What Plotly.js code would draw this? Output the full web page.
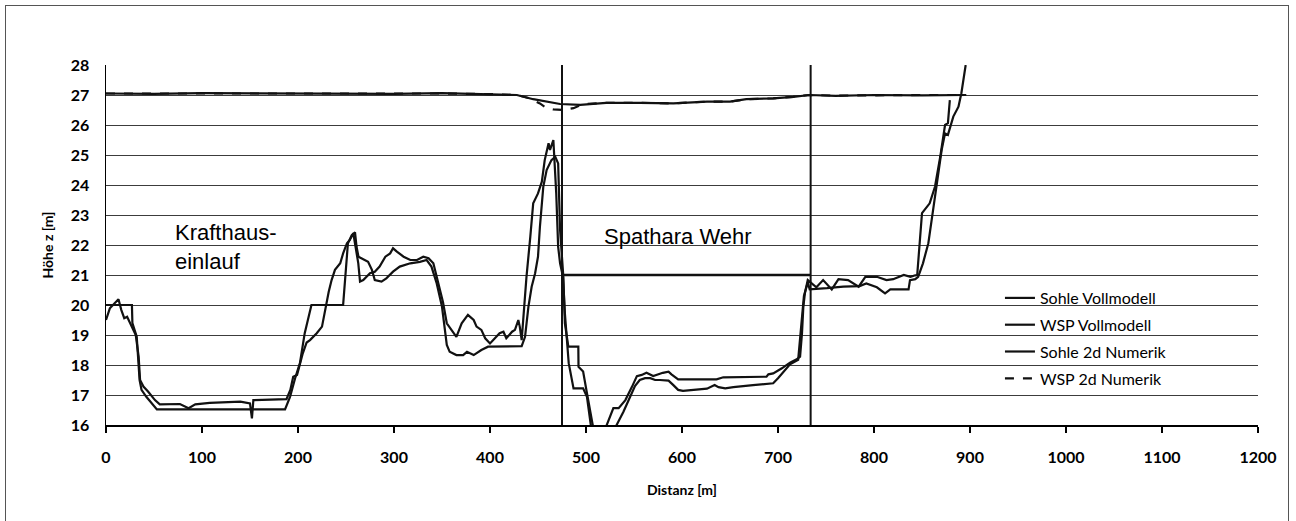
<!DOCTYPE html>
<html>
<head>
<meta charset="utf-8">
<script src="https://cdn.plot.ly/plotly-3.0.1.min.js"></script>
<style>
  html, body { margin: 0; padding: 0; background: #ffffff; }
  #wrap { position: relative; width: 1296px; height: 521px; overflow: hidden; }
  #chart { width: 1296px; height: 521px; }
  #frame { position: absolute; left: 5px; top: 5px; width: 1284px; height: 540px;
           border: 1.5px solid #555; pointer-events: none; box-sizing: border-box; }
</style>
</head>
<body>
<div id="wrap"><div id="chart"></div><div id="frame"></div></div>
<script>
// ---- Data ----
const sohleVollX = [0,4,9,13,16,19,22,25,28.5,31,34,35.5,39,44,51,56,77,86,93,108,140,150,152,153.5,188,192,195,199,205,209,212.5,219.5,225,228,232,235,238.5,244,247,251,254,257.6,262.8,264.6,268,275,280,285,291,296,299,303,310,317,324,330.5,336,341,344.5,348,351,355,360,365,370.5,377,383,386,391,395,400,405,410,414,417,423,426,429.5,431,433,438,442,445,450,454,457,461,462.5,466,469,471,473,476,478,482,487,497,501,505,513,521.5,528.5,534,541,548,553,558,563,570,575,580,586,589,596,619,636,643,660,688,690,695,704,712.5,719.5,723,725,726.4,728,731,740,747,756,763,773,784,791,803,813,820,831,838,843,845,850,853,858,863.5,869,874,877,879];
const sohleVollY = [19.5,19.89,20.06,20.19,19.83,19.56,19.61,19.39,19.17,19.0,18.28,17.5,17.28,17.11,16.83,16.69,16.7,16.56,16.69,16.74,16.78,16.72,16.22,16.83,16.86,17.17,17.61,17.67,18.39,18.75,18.83,19.06,19.28,19.83,20.44,20.83,21.17,21.39,21.72,22.06,22.17,22.39,21.39,20.78,20.83,21.06,21.11,21.28,21.61,21.72,21.89,21.78,21.61,21.5,21.5,21.61,21.56,21.39,20.94,20.5,20.1,19.39,19.17,18.94,19.39,19.67,19.5,19.28,19.17,18.89,18.72,18.89,19.06,19.11,18.89,19.11,19.17,19.5,19.28,18.83,20.94,22.28,23.39,23.72,24.11,24.83,25.39,25.17,25.5,23.72,21.94,21.39,20.94,19.72,18.06,17.22,17.22,16.94,16.0,15.3,16.0,16.56,16.56,16.83,17.28,17.63,17.67,17.74,17.63,17.69,17.74,17.78,17.69,17.52,17.52,17.52,17.59,17.59,17.61,17.69,17.72,17.89,18.08,18.19,18.28,19.06,19.94,20.39,20.83,20.59,20.83,20.52,20.86,20.83,20.61,20.94,20.94,20.83,20.86,21.0,20.94,20.99,21.0,23.06,23.17,23.39,23.94,24.94,26.0,26.06,26.83];

const sohle2dX = [0,27,27.5,30,32,35,37,42,53,186.5,191.7,197,202,207,211,214,247,252,256,259.4,261,263,273,277,280,287,292,299,306,317,327,334,339,344.5,350,353,355,358,365,372,376,383,391,398,433,436.5,440,443.4,447,450,452,455.5,459,464,468,471,473,476.4,478,481.6,492,492.2,497,501,507,519,532,539,546,551,556,561.5,567,572,577,586,591,596,601,619,626,634,638,645,653.5,674,688,695,700,705.5,712.5,721,724.7,727,731,733,751,768,785,792,803,811.5,817,836,837.5,843,846,851,856.6,862,867,870.5,874,877,882.6,888,891,893,895.5];
const sohle2dY = [20,20,19.4,19.11,18.94,17.5,17.17,16.94,16.52,16.52,16.94,17.56,18.06,19.06,19.56,20.0,20.0,22.06,22.33,22.42,21.94,21.61,21.44,21.17,20.83,20.78,20.89,21.11,21.28,21.39,21.44,21.5,21.28,20.72,19.94,19.17,18.67,18.44,18.33,18.33,18.44,18.33,18.5,18.61,18.63,18.94,19.94,20.61,21.06,21.61,22.61,23.94,24.5,24.83,24.94,24.72,22.5,20.94,19.39,18.61,18.61,17.94,17.78,17.06,16.0,15.2,16.0,16.44,16.94,17.3,17.5,17.56,17.56,17.5,17.5,17.48,17.33,17.17,17.14,17.19,17.21,17.33,17.26,17.22,17.26,17.33,17.37,17.39,17.56,17.78,18.02,18.17,19.5,20.3,20.75,20.52,20.56,20.61,20.63,20.72,20.59,20.39,20.52,20.52,20.83,20.86,20.94,21.39,22.06,23.28,24.39,25.17,25.72,25.67,26.28,26.61,27.06,27.5,28.0];

const wspVollX = [0,50,100,150,200,250,300,350,400,428,445,459,473,494,521,556,591,626,650,667,695,716,733,760,800,850,896];
const wspVollY = [27.05,27.04,27.06,27.05,27.06,27.05,27.04,27.06,27.03,27.0,26.86,26.78,26.7,26.67,26.74,26.74,26.72,26.78,26.78,26.86,26.89,26.94,27.0,26.97,27.0,26.99,27.0];

const wsp2dX = [0,50,100,150,200,250,300,350,400,428,440,452,459,466,476,487,497,521,556,591,626,650,667,695,716,733,760,800,850,896];
const wsp2dY = [27.05,27.05,27.04,27.06,27.05,27.04,27.06,27.05,27.03,27.0,26.9,26.72,26.56,26.52,26.5,26.56,26.7,26.74,26.74,26.72,26.78,26.78,26.86,26.89,26.94,27.0,26.98,27.0,27.0,27.0];

// section markers and weir crest
const markerX = [475, 734];
const markerYRange = [16, 28];
const weirX = [476, 734];
const weirY = [21, 21];

const seriesNames = ["Sohle Vollmodell", "WSP Vollmodell", "Sohle 2d Numerik", "WSP 2d Numerik"];
const labels = [
  {text: "Krafthaus-<br>einlauf", x: 70, y: 21.95},
  {text: "Spathara Wehr", x: 517, y: 22.3}
];
const xTicks = [0,100,200,300,400,500,600,700,800,900,1000,1100,1200];
const yTicks = [16,17,18,19,20,21,22,23,24,25,26,27,28];

// ---- Traces ----
const black = "#111111";
const traces = [];
markerX.forEach(function (mx) {
  traces.push({x: [mx, mx], y: markerYRange, mode: "lines", showlegend: false, hoverinfo: "skip",
               line: {color: black, width: 2}});
});
traces.push({x: weirX, y: weirY, mode: "lines", showlegend: false, hoverinfo: "skip",
             line: {color: black, width: 2.5}});

traces.push({x: sohleVollX, y: sohleVollY, name: seriesNames[0], mode: "lines", legendgroup: "a",
             line: {color: black, width: 2.2}});
traces.push({x: wspVollX, y: wspVollY, name: seriesNames[1], mode: "lines", legendgroup: "b",
             line: {color: black, width: 2.2}});
traces.push({x: sohle2dX, y: sohle2dY, name: seriesNames[2], mode: "lines", legendgroup: "c",
             line: {color: black, width: 2.2}});
traces.push({x: wsp2dX, y: wsp2dY, name: seriesNames[3], mode: "lines", legendgroup: "d",
             line: {color: black, width: 2.2, dash: "dash"}});

const tickFont = {family: "Lato, 'Open Sans', sans-serif", size: 16, color: "#000", weight: "bold"};

const layout = {
  width: 1296, height: 521,
  margin: {l: 106, r: 38, t: 65, b: 96},
  paper_bgcolor: "#ffffff", plot_bgcolor: "#ffffff",
  showlegend: true,
  legend: {
    x: 0.776, y: 0.40, xanchor: "left", yanchor: "top",
    traceorder: "grouped", tracegroupgap: 3,
    font: {family: "Lato, 'Open Sans', sans-serif", size: 16, color: "#000"},
    bgcolor: "rgba(255,255,255,0)", borderwidth: 0
  },
  xaxis: {
    range: [0, 1200], tickvals: xTicks, ticktext: xTicks.map(String),
    ticks: "outside", ticklen: 6, tickwidth: 1.5, tickcolor: "#000",
    ticklabelstandoff: 11,
    showline: true, linecolor: "#000", linewidth: 1.5,
    showgrid: false, zeroline: false,
    tickfont: tickFont,
    title: {text: "Distanz [m]", font: {family: "Lato, sans-serif", size: 14, color: "#000", weight: "bold"}, standoff: 20}
  },
  yaxis: {
    range: [16, 28], tickvals: yTicks, ticktext: yTicks.map(String),
    ticks: "", ticklabelstandoff: 12,
    showline: true, linecolor: "#000", linewidth: 1.5,
    showgrid: true, gridcolor: "#3c3c3c", gridwidth: 1,
    zeroline: false,
    tickfont: tickFont,
    title: {text: "Höhe z [m]", font: {family: "Lato, sans-serif", size: 14, color: "#000", weight: "bold"}, standoff: 14}
  },
  annotations: labels.map(function (l) {
    return {x: l.x, y: l.y, xref: "x", yref: "y", text: l.text, showarrow: false,
            xanchor: "left", yanchor: "middle", align: "left",
            font: {family: "'Liberation Sans', Arial, sans-serif", size: 22, color: "#000"}};
  })
};

Plotly.newPlot("chart", traces, layout, {displayModeBar: false, staticPlot: true});
</script>
</body>
</html>
